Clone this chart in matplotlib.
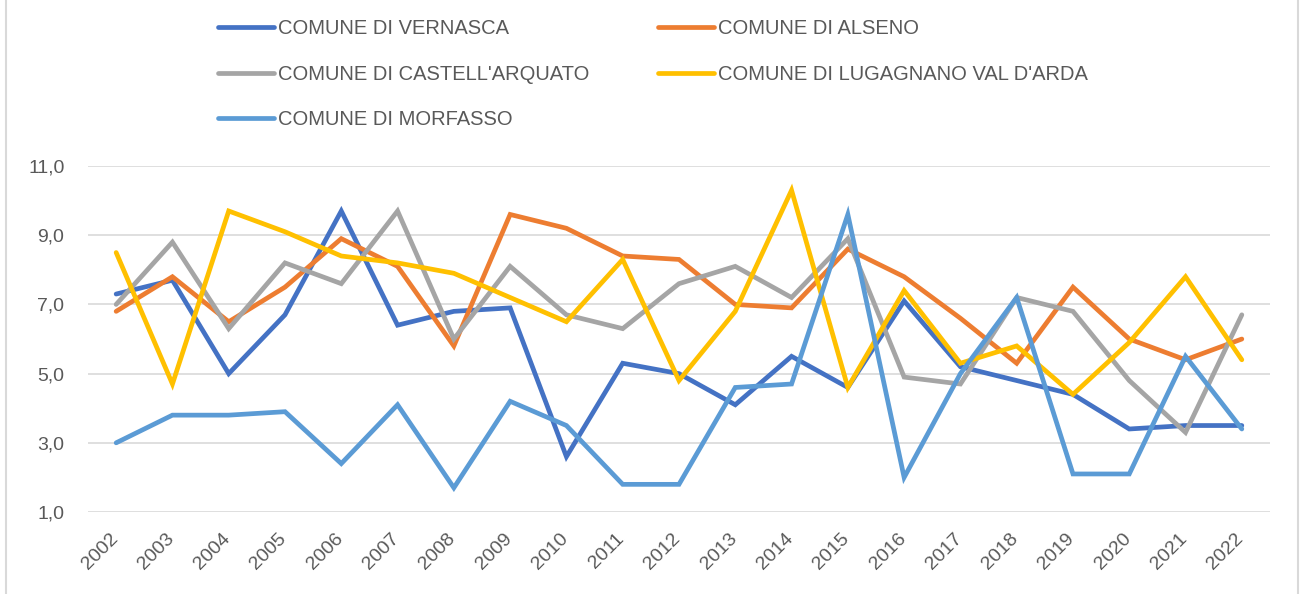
import matplotlib.pyplot as plt
from matplotlib.lines import Line2D
from matplotlib.transforms import ScaledTranslation

plt.rcParams['font.family'] = ['Liberation Sans', 'DejaVu Sans']

years = [str(y) for y in range(2002, 2023)]

vernasca = [7.3, 7.7, 5.0, 6.7, 9.7, 6.4, 6.8, 6.9, 2.6, 5.3, 5.0,
            4.1, 5.5, 4.6, 7.1, 5.2, 4.8, 4.4, 3.4, 3.5, 3.5]
alseno = [6.8, 7.8, 6.5, 7.5, 8.9, 8.1, 5.8, 9.6, 9.2, 8.4, 8.3,
          7.0, 6.9, 8.6, 7.8, 6.6, 5.3, 7.5, 6.0, 5.4, 6.0]
castellarquato = [7.0, 8.8, 6.3, 8.2, 7.6, 9.7, 6.0, 8.1, 6.7, 6.3, 7.6,
                  8.1, 7.2, 8.9, 4.9, 4.7, 7.2, 6.8, 4.8, 3.3, 6.7]
lugagnano = [8.5, 4.7, 9.7, 9.1, 8.4, 8.2, 7.9, 7.2, 6.5, 8.3, 4.8,
             6.8, 10.3, 4.6, 7.4, 5.3, 5.8, 4.4, 5.9, 7.8, 5.4]
morfasso = [3.0, 3.8, 3.8, 3.9, 2.4, 4.1, 1.7, 4.2, 3.5, 1.8, 1.8,
            4.6, 4.7, 9.6, 2.0, 5.0, 7.2, 2.1, 2.1, 5.5, 3.4]

series = [
    ("COMUNE DI VERNASCA", vernasca, "#4472C4"),
    ("COMUNE DI ALSENO", alseno, "#ED7D31"),
    ("COMUNE DI CASTELL'ARQUATO", castellarquato, "#A5A5A5"),
    ("COMUNE DI LUGAGNANO VAL D'ARDA", lugagnano, "#FFC000"),
    ("COMUNE DI MORFASSO", morfasso, "#5B9BD5"),
]

yticks = [1, 3, 5, 7, 9, 11]
text_color = "#595959"

fig = plt.figure(figsize=(13, 5.94), dpi=100)
ax = fig.add_axes([0.0677, 0.138, 0.9092, 0.5825])

x = range(len(years))
handles = {}
for name, vals, color in series:
    line, = ax.plot(x, vals, color=color, lw=3.4, solid_joinstyle='miter',
                    solid_capstyle='round', label=name)
    handles[name] = line

ax.set_xlim(-0.5, len(years) - 0.5)
ax.set_ylim(1, 11)
ax.set_yticks(yticks)
ax.set_yticklabels([f"{v:.1f}".replace(".", ",") for v in yticks],
                   fontsize=14, color=text_color)
ax.set_xticks(list(x))
ax.set_xticklabels(years, rotation=45, ha='right', rotation_mode='anchor',
                   fontsize=14, color=text_color)
ax.tick_params(length=0)
ax.tick_params(axis='y', pad=17)
ax.tick_params(axis='x', pad=13)
shift = ScaledTranslation(-7 / 100, 0, fig.dpi_scale_trans)
for lbl in ax.get_xticklabels():
    lbl.set_transform(lbl.get_transform() + shift)
ax.grid(axis='y', color='#D9D9D9', lw=1.2)
ax.set_axisbelow(True)
for s in ax.spines.values():
    s.set_visible(False)

# legend laid out row by row: two columns
order = ["COMUNE DI VERNASCA", "COMUNE DI CASTELL'ARQUATO", "COMUNE DI MORFASSO",
         "COMUNE DI ALSENO", "COMUNE DI LUGAGNANO VAL D'ARDA"]
fig.legend([handles[n] for n in order], order, ncol=2, loc='upper left',
           bbox_to_anchor=(0.1535, 0.998), frameon=False, fontsize=14.5,
           labelcolor=text_color, handlelength=2.8, handletextpad=0.2,
           labelspacing=1.32, columnspacing=3.4)

# chart border
fig.add_artist(Line2D([0.0046, 0.0046], [0, 1], color='#D9D9D9', lw=1.5))
fig.add_artist(Line2D([0.9988, 0.9988], [0, 1], color='#D9D9D9', lw=1.5))

fig.savefig("out.png", dpi=100)
